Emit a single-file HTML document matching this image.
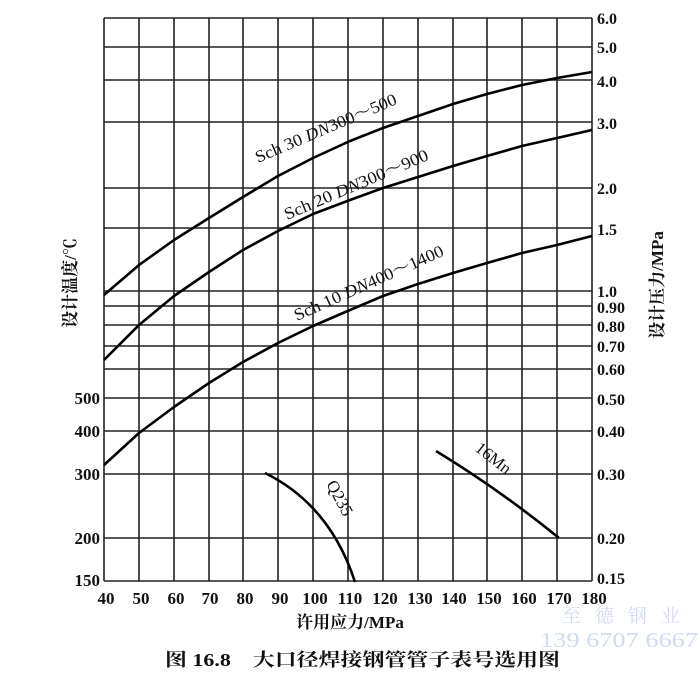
<!DOCTYPE html>
<html><head><meta charset="utf-8"><style>
body{margin:0;background:#fff;}
svg{display:block;}
text{font-family:"Liberation Serif","Noto Serif CJK SC",serif;fill:#111;}
</style></head><body>
<svg width="700" height="679" viewBox="0 0 700 679" xmlns="http://www.w3.org/2000/svg">
<g stroke="#222" stroke-width="1.6" fill="none">
<path d="M104,18H592M104,47H592M104,80H592M104,122H592M104,188H592M104,228H592M104,291H592M104,306H592M104,325H592M104,346H592M104,369H592M104,398H592M104,431H592M104,474H592M104,538H592M104,581H592"/>
<path d="M104,18V581M139,18V581M174,18V581M209,18V581M243,18V581M278,18V581M313,18V581M348,18V581M383,18V581M418,18V581M453,18V581M487,18V581M522,18V581M557,18V581M592,18V581"/>
</g>
<g stroke="#000" stroke-width="2.6" fill="none" stroke-linejoin="round">
<polyline points="104,295 139,265 174,240 209,218 243,197 278,176 313,158 350,141 383,128 418,116 453,104 487,94 522,85 557,78 592,72"/>
<polyline points="104,360 139,325 174,296 209,272 243,250 278,231 313,214 350,200 383,188 418,177 453,166 487,156 522,146 557,138 592,130"/>
<polyline points="104,465 139,433 174,407 209,383 243,362 278,343 313,326 350,310 383,296 418,284 453,273 487,263 522,253 557,245 592,236"/>
<path d="M265,473 Q330,505 355,582"/>
<path d="M436,451 Q500,490 559,538"/>
</g>
<g font-size="17">
<text transform="translate(258,163) rotate(-23)" textLength="152" lengthAdjust="spacingAndGlyphs">Sch 30 <tspan font-style="italic">DN</tspan>300～500</text>
<text transform="translate(287,220) rotate(-23)" textLength="155" lengthAdjust="spacingAndGlyphs">Sch 20 <tspan font-style="italic">DN</tspan>300～900</text>
<text transform="translate(297,321) rotate(-24)" textLength="162" lengthAdjust="spacingAndGlyphs">Sch 10 <tspan font-style="italic">DN</tspan>400～1400</text>
<text transform="translate(326,484) rotate(62)">Q235</text>
<text transform="translate(474,450) rotate(38)">16Mn</text>
</g>
<g font-size="17" font-weight="bold" text-anchor="end">
<text x="100" y="404">500</text><text x="100" y="437">400</text><text x="100" y="480">300</text><text x="100" y="544">200</text><text x="100" y="586">150</text>
</g>
<g font-size="17" font-weight="bold" text-anchor="middle">
<text x="106" y="604">40</text><text x="141" y="604">50</text><text x="176" y="604">60</text><text x="210" y="604">70</text><text x="245" y="604">80</text><text x="280" y="604">90</text><text x="315" y="604">100</text><text x="350" y="604">110</text><text x="385" y="604">120</text><text x="420" y="604">130</text><text x="454" y="604">140</text><text x="489" y="604">150</text><text x="524" y="604">160</text><text x="559" y="604">170</text><text x="594" y="604">180</text>
</g>
<g font-size="16" font-weight="bold">
<text x="597" y="24">6.0</text><text x="597" y="53">5.0</text><text x="597" y="87">4.0</text><text x="597" y="129">3.0</text><text x="597" y="194">2.0</text><text x="597" y="235">1.5</text><text x="597" y="297">1.0</text><text x="597" y="313">0.90</text><text x="597" y="332">0.80</text><text x="597" y="352">0.70</text><text x="597" y="375">0.60</text><text x="597" y="405">0.50</text><text x="597" y="437">0.40</text><text x="597" y="480">0.30</text><text x="597" y="544">0.20</text><text x="597" y="584">0.15</text>
</g>
<text transform="translate(76,283) rotate(-90)" font-size="17" font-weight="bold" text-anchor="middle">设计温度/℃</text>
<text transform="translate(663,285) rotate(-90)" font-size="17" font-weight="bold" text-anchor="middle">设计压力/MPa</text>
<text x="350" y="628" font-size="17" font-weight="bold" text-anchor="middle">许用应力/MPa</text>
<text x="165" y="666" font-size="18" font-weight="bold" textLength="395" lengthAdjust="spacingAndGlyphs">图 16.8　大口径焊接钢管管子表号选用图</text>
<text x="562" y="622" font-size="19" style="fill:#d0daf0" textLength="118" lengthAdjust="spacing">至德钢业</text>
<text x="540" y="647" font-size="21" style="fill:#d0daf0" font-family="Liberation Sans,sans-serif" textLength="158" lengthAdjust="spacingAndGlyphs">139 6707 6667</text>
</svg>
</body></html>
